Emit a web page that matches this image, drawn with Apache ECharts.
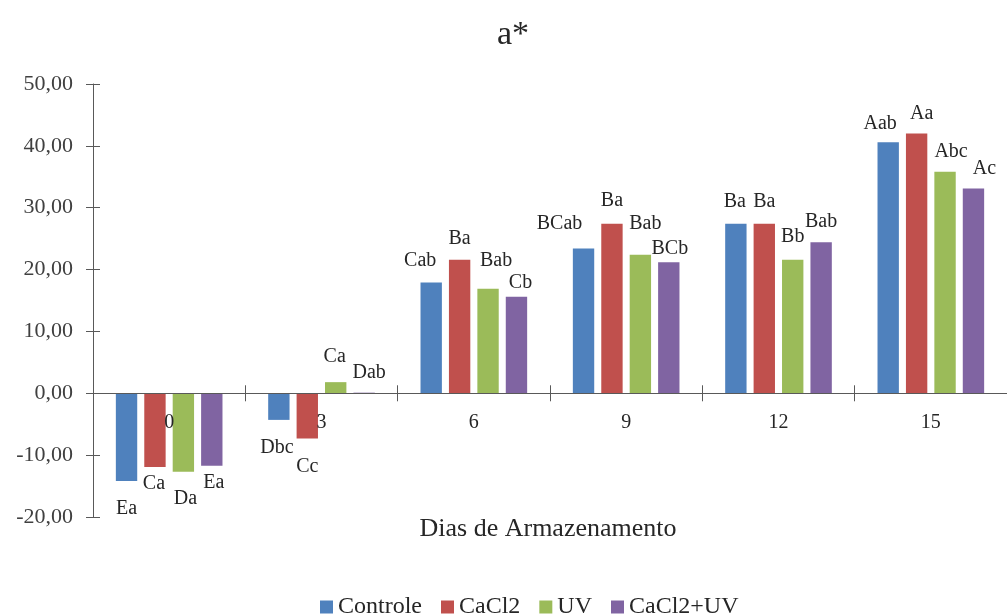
<!DOCTYPE html>
<html>
<head>
<meta charset="utf-8">
<script src="https://cdn.jsdelivr.net/npm/echarts@6/dist/echarts.min.js"></script>
<style>
html,body{margin:0;padding:0;background:#fff;}
#chart{width:1007px;height:614px;}
</style>
</head>
<body>
<div id="chart"></div>
<script>
// ---- data ----
const categories = ['0', '3', '6', '9', '12', '15'];
const seriesNames = ['Controle', 'CaCl2', 'UV', 'CaCl2+UV'];
const controle = [-14.2, -4.3, 17.9, 23.4, 27.4, 40.6];
const cacl2 = [-11.9, -7.3, 21.6, 27.4, 27.4, 42.0];
const uv = [-12.7, 1.8, 16.9, 22.4, 21.6, 35.8];
const cacl2uv = [-11.7, 0.1, 15.6, 21.2, 24.4, 33.1];
const lettersControle = ['Ea', 'Dbc', 'Cab', 'BCab', 'Ba', 'Aab'];
const lettersCacl2 = ['Ca', 'Cc', 'Ba', 'Ba', 'Ba', 'Aa'];
const lettersUv = ['Da', 'Ca', 'Bab', 'Bab', 'Bb', 'Abc'];
const lettersCacl2uv = ['Ea', 'Dab', 'Cb', 'BCb', 'Bab', 'Ac'];
const yTicks = { min: -20, max: 50, interval: 10 };

// ---- label style offsets (pixels) ----
const offControle = [[0, 13], [-2, 13], [-11, -7], [-24, -10], [-1, -7], [-8, -3]];
const offCacl2 = [[-1, 2], [0, 13], [0, -6], [0, -8], [0, -7], [5, -5]];
const offUv = [[2, 12], [-1, -10], [8, -13], [5, -16], [0, -8], [6, -5]];
const offCacl2uv = [[2, 2], [5, -5], [4, 1], [1, 2], [0, -6], [11, -5]];

const colors = ['#4F81BD', '#C0504D', '#9BBB59', '#8064A2'];
const FONT = '"Liberation Serif", "Times New Roman", serif';

function buildSeries(name, values, letters, offsets, color) {
  return {
    name: name,
    type: 'bar',
    xAxisIndex: 0,
    yAxisIndex: 0,
    barGap: '33%',
    barCategoryGap: '30%',
    itemStyle: { color: color },
    data: values.map(function (v, i) {
      return {
        value: v,
        label: {
          show: true,
          formatter: letters[i],
          position: v < 0 ? 'bottom' : 'top',
          distance: 5,
          offset: offsets[i],
          fontFamily: FONT,
          fontSize: 20,
          color: '#262626'
        }
      };
    })
  };
}

const chart = echarts.init(document.getElementById('chart'), null, { renderer: 'canvas' });
const fmt = function (v) { return v.toFixed(2).replace('.', ','); };

// grid geometry: top 84 (y=50), bottom 517 (y=-20); zero line sits 50/70 down
const gridTop = 84, gridBottomPx = 517;
const zeroShift = -((gridBottomPx - gridTop) * (yTicks.min / (yTicks.min - yTicks.max)));

chart.setOption({
  animation: false,
  backgroundColor: '#ffffff',
  color: colors,
  grid: { left: 93, width: 916, top: gridTop, bottom: 614 - gridBottomPx, containLabel: false },
  legend: {
    data: seriesNames,
    top: 590,
    left: 315,
    itemWidth: 13,
    itemHeight: 13,
    itemGap: 19,
    icon: 'rect',
    textStyle: { fontFamily: FONT, fontSize: 24, color: '#262626' }
  },
  graphic: [
    { type: 'text', style: { text: 'a*', x: 513, y: 35, textAlign: 'center', textVerticalAlign: 'middle', font: '34px ' + FONT, fill: '#262626' } },
    { type: 'text', style: { text: 'Dias de Armazenamento', x: 548, y: 529, textAlign: 'center', textVerticalAlign: 'middle', font: '26px ' + FONT, fill: '#262626' } }
  ],
  xAxis: [
    {
      type: 'category',
      data: categories,
      z: 10,
      position: 'bottom',
      offset: zeroShift,
      axisLine: { onZero: false, lineStyle: { color: '#595959', width: 1 } },
      axisTick: { show: true, inside: false, length: 8, lineStyle: { color: '#595959' } },
      axisLabel: { margin: 19, fontFamily: FONT, fontSize: 20, color: '#262626' },
      splitLine: { show: false }
    },
    {
      type: 'category',
      data: categories,
      z: 10,
      position: 'bottom',
      offset: zeroShift,
      axisLine: { onZero: false, show: false },
      axisTick: { show: true, inside: true, length: 8, lineStyle: { color: '#595959' } },
      axisLabel: { show: false },
      splitLine: { show: false }
    }
  ],
  yAxis: [
    {
      type: 'value',
      min: yTicks.min,
      max: yTicks.max,
      interval: yTicks.interval,
      axisLine: { show: true, lineStyle: { color: '#595959' } },
      axisTick: { show: true, length: 7, lineStyle: { color: '#595959' } },
      axisLabel: { margin: 20, formatter: fmt, fontFamily: FONT, fontSize: 22, color: '#404040' },
      splitLine: { show: false }
    },
    {
      type: 'value',
      position: 'left',
      min: yTicks.min,
      max: yTicks.max,
      interval: yTicks.interval,
      axisLine: { show: false },
      axisTick: { show: true, inside: true, length: 7, lineStyle: { color: '#595959' } },
      axisLabel: { show: false },
      splitLine: { show: false }
    }
  ],
  series: [
    buildSeries(seriesNames[0], controle, lettersControle, offControle, colors[0]),
    buildSeries(seriesNames[1], cacl2, lettersCacl2, offCacl2, colors[1]),
    buildSeries(seriesNames[2], uv, lettersUv, offUv, colors[2]),
    buildSeries(seriesNames[3], cacl2uv, lettersCacl2uv, offCacl2uv, colors[3])
  ]
});
</script>
</body>
</html>
